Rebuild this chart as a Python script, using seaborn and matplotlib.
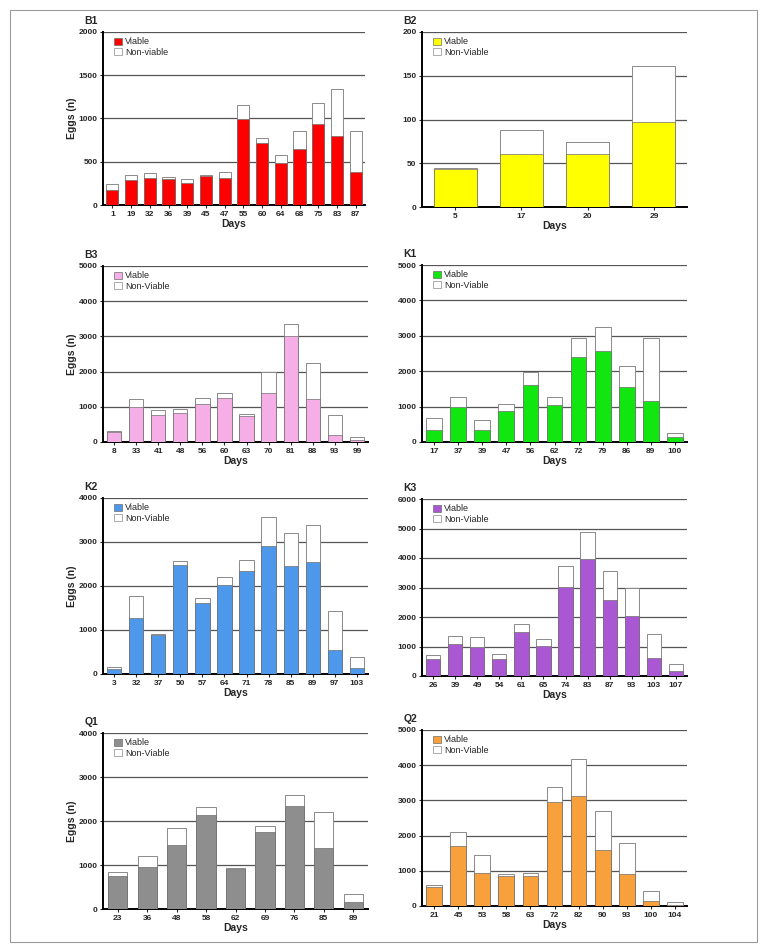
"""
Egg production per female: viable vs non-viable eggs over days
"""

import numpy as np
import pandas as pd
import seaborn as sns
import matplotlib.pyplot as plt
from matplotlib.patches import Patch, Rectangle

# Data (viable eggs and total eggs per day)

b1_days = [1, 19, 32, 36, 39, 45, 47, 55, 60, 64, 68, 75, 83, 87]
b1_viable = [175, 285, 310, 300, 260, 340, 310, 990, 715, 480, 645, 935, 800, 380]
b1_total = [240, 345, 365, 320, 305, 350, 385, 1160, 770, 580, 850, 1175, 1340, 860]

b2_days = [5, 17, 20, 29]
b2_viable = [43, 61, 61, 97]
b2_total = [45, 88, 74, 161]

b3_days = [8, 33, 41, 48, 56, 60, 63, 70, 81, 88, 93, 99]
b3_viable = [290, 990, 780, 820, 1080, 1240, 730, 1380, 3000, 1220, 200, 50]
b3_total = [320, 1220, 900, 950, 1240, 1380, 800, 1980, 3360, 2240, 770, 150]

k1_days = [17, 37, 39, 47, 56, 62, 72, 79, 86, 89, 100]
k1_viable = [330, 1000, 330, 880, 1610, 1050, 2400, 2570, 1550, 1170, 150]
k1_total = [670, 1270, 610, 1080, 1970, 1280, 2950, 3240, 2160, 2930, 260]

k2_days = [3, 32, 37, 50, 57, 64, 71, 78, 85, 89, 97, 103]
k2_viable = [120, 1270, 880, 2470, 1620, 2030, 2350, 2920, 2450, 2540, 540, 130]
k2_total = [170, 1780, 920, 2560, 1720, 2210, 2580, 3570, 3200, 3390, 1430, 380]

k3_days = [26, 39, 49, 54, 61, 65, 74, 83, 87, 93, 103, 107]
k3_viable = [590, 1070, 980, 590, 1480, 1010, 3030, 3970, 2590, 2040, 610, 180]
k3_total = [710, 1360, 1310, 730, 1750, 1240, 3740, 4880, 3560, 2980, 1410, 400]

q1_days = [23, 36, 48, 58, 62, 69, 76, 85, 89]
q1_viable = [740, 960, 1460, 2140, 900, 1740, 2330, 1390, 160]
q1_total = [850, 1200, 1830, 2320, 940, 1880, 2600, 2210, 330]

q2_days = [21, 45, 53, 58, 63, 72, 82, 90, 93, 100, 104]
q2_viable = [550, 1700, 950, 860, 860, 2960, 3120, 1580, 910, 150, 30]
q2_total = [600, 2100, 1440, 920, 930, 3370, 4190, 2690, 1790, 430, 120]

# name, days, viable, total, colour, y max, y step, non-viable label
panels = [
    ('B1', b1_days, b1_viable, b1_total, '#ff0000', 2000, 500, 'Non-viable'),
    ('B2', b2_days, b2_viable, b2_total, '#ffff00', 200, 50, 'Non-Viable'),
    ('B3', b3_days, b3_viable, b3_total, '#f5aee6', 5000, 1000, 'Non-Viable'),
    ('K1', k1_days, k1_viable, k1_total, '#11e611', 5000, 1000, 'Non-Viable'),
    ('K2', k2_days, k2_viable, k2_total, '#4d98ea', 4000, 1000, 'Non-Viable'),
    ('K3', k3_days, k3_viable, k3_total, '#a957d2', 6000, 1000, 'Non-Viable'),
    ('Q1', q1_days, q1_viable, q1_total, '#8e8e8e', 4000, 1000, 'Non-Viable'),
    ('Q2', q2_days, q2_viable, q2_total, '#f7a03c', 5000, 1000, 'Non-Viable'),
]

# Axes boxes in pixels: left, top, right, bottom
W, H = 767, 952
boxes = [
    (103, 32, 365, 205), (422, 32, 687, 207),
    (103, 266, 368, 442), (422, 265, 687, 442),
    (103, 498, 368, 674), (422, 499, 687, 676),
    (103, 733, 368, 909), (422, 730, 687, 906),
]

sns.set_style('white')
plt.rcParams['font.family'] = ['Liberation Sans', 'DejaVu Sans']

fig = plt.figure(figsize=(W / 100, H / 100), dpi=100)

# Outer frame
fig.patches.append(Rectangle((10 / W, 10 / H), 747 / W, 932 / H, transform=fig.transFigure,
                             fill=False, edgecolor='#9a9a9a', linewidth=0.8))

for i, (name, days, viable, total, col, ymax, ystep, nv_label) in enumerate(panels):
    l, t, r, b = boxes[i]
    ax = fig.add_axes([l / W, 1 - b / H, (r - l) / W, (b - t) / H])

    df = pd.DataFrame({'Days': [str(d) for d in days], 'Viable': viable, 'Total': total})
    order = list(df['Days'])

    sns.barplot(data=df, x='Days', y='Total', order=order, color='white',
                edgecolor='#8a8a8a', linewidth=0.7, width=0.65, saturation=1, ax=ax, zorder=3)
    sns.barplot(data=df, x='Days', y='Viable', order=order, color=col,
                edgecolor='#6e6e6e', linewidth=0.5, width=0.65, saturation=1, ax=ax, zorder=4)

    ax.set_ylim(0, ymax)
    ax.set_yticks(np.arange(0, ymax + ystep, ystep))
    ax.grid(axis='y', color='#555555', linewidth=0.9, zorder=1)
    ax.set_axisbelow(True)

    for s in ['top', 'right']:
        ax.spines[s].set_visible(False)
    ax.spines['left'].set_linewidth(1.4)
    ax.spines['bottom'].set_linewidth(1.4)
    ax.spines['left'].set_color('black')
    ax.spines['bottom'].set_color('black')

    ax.tick_params(axis='both', labelsize=6, length=2.5, width=0.8, pad=1.5, left=True, bottom=True)
    for lab in ax.get_xticklabels() + ax.get_yticklabels():
        lab.set_fontweight('bold')

    ax.set_xlabel('Days', fontsize=7.5, fontweight='bold', labelpad=1)
    if i % 2 == 0:
        ax.set_ylabel('Eggs (n)', fontsize=7.5, fontweight='bold', labelpad=1)
    else:
        ax.set_ylabel('')

    ax.text(-0.07, 1.035, name, transform=ax.transAxes, fontsize=7.5, fontweight='bold',
            ha='left', va='bottom')

    handles = [Patch(facecolor=col, edgecolor='#6e6e6e', linewidth=0.5, label='Viable'),
               Patch(facecolor='white', edgecolor='#8a8a8a', linewidth=0.5, label=nv_label)]
    ax.legend(handles=handles, loc='upper left', bbox_to_anchor=(0.02, 1.0), frameon=False,
              fontsize=6.5, handlelength=0.9, handleheight=0.9, handletextpad=0.4,
              labelspacing=0.15, borderaxespad=0.2)

plt.savefig('out.png', dpi=100)
